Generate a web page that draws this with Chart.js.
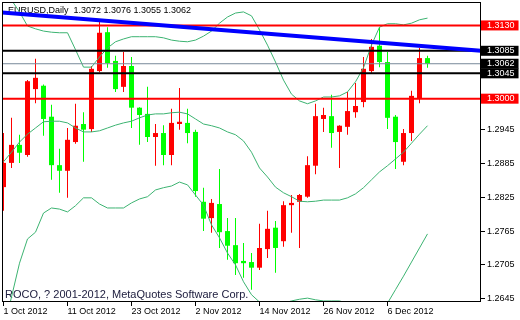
<!DOCTYPE html>
<html lang="en">
<head>
<meta charset="UTF-8">
<title>EURUSD Daily</title>
<script src="https://cdn.jsdelivr.net/npm/chart.js"></script>
<style>
    body {
        margin: 0;
        padding: 0;
        background: #ffffff;
    }
    #wrap {
        width: 520px;
        height: 320px;
    }
</style>
</head>
<body>
<div id="wrap"><canvas id="chart" width="520" height="320"></canvas></div>
<script>
// daily candles, 1 Oct 2012 .. 11 Dec 2012 (index = trading day)
const opens  = [1.2843, 1.2886, 1.2918, 1.2900, 1.3017, 1.3023, 1.2968, 1.2882, 1.2872, 1.2923,
                1.2955, 1.2946, 1.3049, 1.3118, 1.3067, 1.3021, 1.3058, 1.2984, 1.2973, 1.2932,
                1.2939, 1.2900, 1.2955, 1.2957, 1.2941, 1.2817, 1.2788, 1.2813, 1.2765, 1.2740,
                1.2712, 1.2710, 1.2700, 1.2733, 1.2771, 1.2747, 1.2811, 1.2817, 1.2826, 1.2881,
                1.2964, 1.2969, 1.2941, 1.2950, 1.2976, 1.2994, 1.3049, 1.3094, 1.3065, 1.2968,
                1.2888, 1.2939, 1.3000, 1.3072];
const highs  = [1.2939, 1.2966, 1.2936, 1.3033, 1.3071, 1.3025, 1.2989, 1.2911, 1.2948, 1.2991,
                1.2976, 1.3058, 1.3138, 1.3127, 1.3076, 1.3083, 1.3074, 1.2985, 1.3021, 1.2955,
                1.2953, 1.2982, 1.3019, 1.2982, 1.2945, 1.2842, 1.2822, 1.2875, 1.2788, 1.2788,
                1.2744, 1.2726, 1.2778, 1.2801, 1.2783, 1.2818, 1.2829, 1.2831, 1.2898, 1.2991,
                1.2984, 1.3007, 1.2953, 1.3012, 1.3028, 1.3074, 1.3106, 1.3127, 1.3083, 1.2971,
                1.2946, 1.3014, 1.3090, 1.3076];
const lows   = [1.2801, 1.2877, 1.2886, 1.2897, 1.2992, 1.2934, 1.2856, 1.2833, 1.2824, 1.2920,
                1.2888, 1.2941, 1.3047, 1.3055, 1.3012, 1.3012, 1.2948, 1.2918, 1.2923, 1.2881,
                1.2882, 1.2882, 1.2945, 1.2921, 1.2826, 1.2765, 1.2762, 1.2735, 1.2714, 1.2687,
                1.2682, 1.2661, 1.2696, 1.2717, 1.2691, 1.2737, 1.2762, 1.2735, 1.2824, 1.2866,
                1.2941, 1.2913, 1.2877, 1.2936, 1.2966, 1.2985, 1.3046, 1.3056, 1.2946, 1.2875,
                1.2882, 1.2925, 1.2992, 1.3055];
const closes = [1.2886, 1.2918, 1.2904, 1.3031, 1.3037, 1.2964, 1.2882, 1.2872, 1.2927, 1.2952,
                1.2945, 1.3053, 1.3117, 1.3063, 1.3017, 1.3058, 1.2984, 1.2971, 1.2932, 1.2939,
                1.2900, 1.2957, 1.2959, 1.2939, 1.2836, 1.2787, 1.2815, 1.2763, 1.2739, 1.2708,
                1.2708, 1.2700, 1.2735, 1.2769, 1.2735, 1.2811, 1.2815, 1.2829, 1.2882, 1.2969,
                1.2971, 1.2939, 1.2952, 1.2978, 1.2987, 1.3053, 1.3092, 1.3065, 1.2966, 1.2923,
                1.2939, 1.3005, 1.3072, 1.3062];

// bollinger bands
const upperBand  = [1.3197, 1.3175, 1.3154, 1.3129, 1.3124, 1.3120, 1.3118, 1.3117, 1.3117, 1.3087,
                    1.3056, 1.3056, 1.3074, 1.3090, 1.3101, 1.3106, 1.3110, 1.3110, 1.3110, 1.3110,
                    1.3108, 1.3104, 1.3102, 1.3101, 1.3104, 1.3111, 1.3120, 1.3134, 1.3145, 1.3152,
                    1.3154, 1.3147, 1.3122, 1.3095, 1.3065, 1.3033, 1.3008, 1.2996, 1.2991, 1.2996,
                    1.3003, 1.3003, 1.3005, 1.3012, 1.3030, 1.3055, 1.3095, 1.3127, 1.3133, 1.3133,
                    1.3131, 1.3134, 1.3140, 1.3143];
const middleBand = [1.2888, 1.2905, 1.2923, 1.2937, 1.2948, 1.2959, 1.2960, 1.2960, 1.2957, 1.2948,
                    1.2941, 1.2941, 1.2943, 1.2948, 1.2953, 1.2957, 1.2960, 1.2966, 1.2971, 1.2973,
                    1.2973, 1.2975, 1.2976, 1.2973, 1.2964, 1.2955, 1.2952, 1.2948, 1.2941, 1.2936,
                    1.2925, 1.2905, 1.2877, 1.2861, 1.2843, 1.2833, 1.2826, 1.2818, 1.2817, 1.2818,
                    1.2820, 1.2820, 1.2820, 1.2824, 1.2831, 1.2842, 1.2856, 1.2870, 1.2881, 1.2893,
                    1.2905, 1.2921, 1.2937, 1.2952];
const lowerBand  = [1.2590, 1.2648, 1.2708, 1.2751, 1.2763, 1.2797, 1.2806, 1.2804, 1.2799, 1.2810,
                    1.2824, 1.2824, 1.2813, 1.2806, 1.2806, 1.2806, 1.2815, 1.2822, 1.2826, 1.2838,
                    1.2842, 1.2845, 1.2852, 1.2847, 1.2829, 1.2811, 1.2776, 1.2753, 1.2726, 1.2705,
                    1.2675, 1.2652, 1.2639, 1.2632, 1.2632, 1.2637, 1.2641, 1.2644, 1.2646, 1.2643,
                    1.2641, 1.2641, 1.2641, 1.2637, 1.2625, 1.2616, 1.2616, 1.2625, 1.2637, 1.2661,
                    1.2685, 1.2710, 1.2735, 1.2760];

// horizontal levels and the bid line
const levels      = [1.3130, 1.3085, 1.3045, 1.3000];
const levelColors = ['#ff0000', '#000000', '#000000', '#ff0000'];
const bidPrice    = 1.3062;

// trend line, price at the left and right edge of the window
const trendFrom = 1.3153;
const trendTo   = 1.3085;

// axes
const priceTicks = [1.2645, 1.2705, 1.2765, 1.2825, 1.2885, 1.2945];
const dateTicks  = [0, 8, 16, 24, 32, 40, 48];
const dateLabels = ['1 Oct 2012', '11 Oct 2012', '23 Oct 2012', '2 Nov 2012', '14 Nov 2012', '26 Nov 2012', '6 Dec 2012'];

const titleText = 'EURUSD,Daily  1.3072 1.3076 1.3055 1.3062';
const copyText  = 'ROCO, ? 2001-2012, MetaQuotes Software Corp.';

const X_MIN = -0.1875, X_MAX = 59.6875;
const Y_MIN = 1.26391, Y_MAX = 1.31716;

function labelColor(v) {
    const k = levels.findIndex(l => Math.abs(l - v) < 1e-6);
    if (k >= 0) return levelColors[k];
    if (Math.abs(v - bidPrice) < 1e-6) return '#000000';
    return null;
}

const candleColors = opens.map((o, i) => closes[i] >= o ? '#ff0000' : '#00ff00');

const chartText = {
    id: 'chartText',
    beforeDatasetsDraw(chart) {
        const c = chart.ctx;
        c.save();
        c.textAlign = 'left';
        c.textBaseline = 'middle';
        c.font = '9px "Liberation Sans", Arial, sans-serif';
        c.fillStyle = '#000000';
        c.fillText(titleText, 8, 11);
        c.font = '11px "Liberation Sans", Arial, sans-serif';
        c.fillStyle = '#202040';
        c.fillText(copyText, 5, 295);
        c.restore();
    },
    afterDraw(chart) {
        const a = chart.chartArea;
        const c = chart.ctx;
        c.save();
        c.strokeStyle = '#000000';
        c.lineWidth = 1;
        c.strokeRect(a.left + 0.5, a.top + 0.5, a.right - a.left - 1, a.bottom - a.top - 1);
        c.restore();
    }
};

Chart.defaults.font.family = '"Liberation Sans", Arial, sans-serif';
Chart.defaults.font.size = 9;
Chart.defaults.color = '#000000';

function flatLine(value, color, width) {
    return {
        type: 'line',
        data: [{ x: X_MIN, y: value }, { x: X_MAX, y: value }],
        borderColor: color,
        borderWidth: width,
        pointRadius: 0,
        clip: 0,
        order: 0
    };
}

function bandLine(values) {
    return {
        type: 'line',
        data: values.map((v, i) => ({ x: i, y: v })),
        borderColor: '#3cb371',
        borderWidth: 1,
        pointRadius: 0,
        tension: 0,
        clip: 0,
        order: 1
    };
}

const datasets = [
    {
        type: 'line',
        data: [{ x: X_MIN, y: trendFrom }, { x: X_MAX, y: trendTo }],
        borderColor: '#0000ff',
        borderWidth: 4,
        pointRadius: 0,
        clip: 0,
        order: 0
    },
    ...levels.map((l, k) => flatLine(l, levelColors[k], 2)),
    flatLine(bidPrice, '#778899', 1),
    bandLine(upperBand),
    bandLine(middleBand),
    bandLine(lowerBand),
    {
        type: 'bar',
        data: opens.map((o, i) => ({ x: i, y: [o, closes[i]] })),
        backgroundColor: candleColors,
        barThickness: 5,
        minBarLength: 1,
        borderWidth: 0,
        inflateAmount: 0,
        grouped: false,
        clip: 0,
        order: 2
    },
    {
        type: 'bar',
        data: lows.map((lo, i) => ({ x: i, y: [lo, highs[i]] })),
        backgroundColor: candleColors,
        barThickness: 1,
        borderWidth: 0,
        inflateAmount: 0,
        grouped: false,
        clip: 0,
        order: 3
    }
];

new Chart(document.getElementById('chart'), {
    type: 'bar',
    data: { datasets: datasets },
    plugins: [chartText],
    options: {
        responsive: false,
        animation: false,
        devicePixelRatio: 1,
        events: [],
        layout: { padding: { left: 2, top: 2, right: 0, bottom: 0 } },
        plugins: {
            legend: { display: false },
            tooltip: { enabled: false }
        },
        scales: {
            x: {
                type: 'linear',
                min: X_MIN,
                max: X_MAX,
                offset: false,
                border: { display: false },
                grid: { display: true, offset: false, drawOnChartArea: false, drawTicks: true, tickLength: 4, color: '#000000' },
                ticks: {
                    autoSkip: false,
                    maxRotation: 0,
                    align: 'start',
                    padding: 1,
                    font: { size: 9, lineHeight: 1 },
                    color: '#000000',
                    callback: v => {
                        const k = dateTicks.indexOf(v);
                        return k >= 0 ? dateLabels[k] : '';
                    }
                },
                afterBuildTicks: scale => {
                    scale.ticks = dateTicks.map(v => ({ value: v }));
                },
                afterFit: scale => {
                    scale.height = 18;
                    scale.paddingLeft = 0;
                    scale.paddingRight = 0;
                }
            },
            y: {
                type: 'linear',
                position: 'right',
                min: Y_MIN,
                max: Y_MAX,
                beginAtZero: false,
                border: { display: false },
                grid: { display: true, drawOnChartArea: false, drawTicks: true, tickLength: 4, color: '#000000' },
                ticks: {
                    autoSkip: false,
                    padding: 2,
                    font: { size: 9, lineHeight: 1 },
                    color: ctx => labelColor(ctx.tick.value) ? '#ffffff' : '#000000',
                    showLabelBackdrop: true,
                    backdropColor: ctx => labelColor(ctx.tick.value) || 'rgba(0,0,0,0)',
                    backdropPadding: { left: 6, right: 4, top: 0.5, bottom: 0.5 },
                    callback: v => Number(v).toFixed(4)
                },
                afterBuildTicks: scale => {
                    const vals = priceTicks.concat(levels, [bidPrice]).sort((a, b) => a - b);
                    scale.ticks = vals.map(v => ({ value: v }));
                },
                afterFit: scale => {
                    scale.width = 39;
                    scale.paddingTop = 0;
                    scale.paddingBottom = 0;
                }
            }
        }
    }
});
</script>
</body>
</html>
